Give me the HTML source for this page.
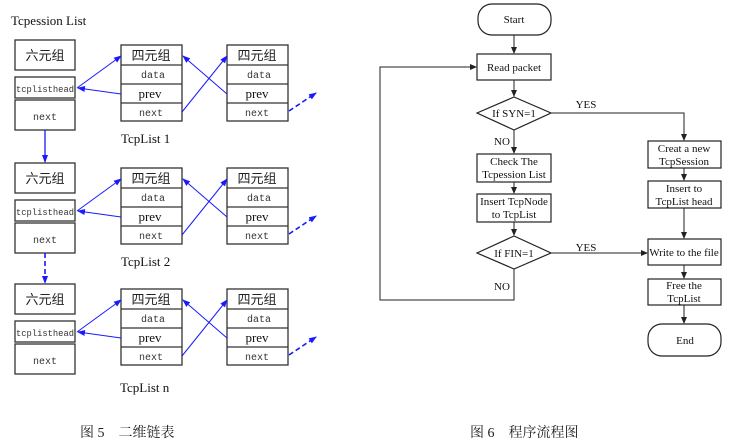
<!DOCTYPE html>
<html><head><meta charset="utf-8"><style>
html,body{margin:0;padding:0;background:#fff;}
svg{display:block}
.s{font-family:"Liberation Serif","Noto Serif CJK SC",serif;}
.m{font-family:"Liberation Mono","DejaVu Sans Mono",monospace;}
.c{font-family:"Noto Sans CJK SC",sans-serif;}
</style></head><body>
<svg width="740" height="447" viewBox="0 0 740 447" xmlns="http://www.w3.org/2000/svg">
<defs>
<marker id="b" markerWidth="8" markerHeight="6" refX="7" refY="3" orient="auto" markerUnits="userSpaceOnUse"><path d="M0,0L8,3L0,6z" fill="#1a1aff"/></marker>
<marker id="k" markerWidth="7" markerHeight="6" refX="6" refY="3" orient="auto" markerUnits="userSpaceOnUse"><path d="M0,0L7,3L0,6z" fill="#222"/></marker>
<g id="grp">
  <g fill="none" stroke="#333" stroke-width="1.3">
    <rect x="15" y="40" width="60" height="30"/>
    <rect x="15" y="77" width="60" height="21"/>
    <rect x="15" y="100" width="60" height="30"/>
    <rect x="121" y="45" width="61" height="76"/>
    <line x1="121" y1="65" x2="182" y2="65"/><line x1="121" y1="84" x2="182" y2="84"/><line x1="121" y1="103" x2="182" y2="103"/>
    <rect x="227" y="45" width="61" height="76"/>
    <line x1="227" y1="65" x2="288" y2="65"/><line x1="227" y1="84" x2="288" y2="84"/><line x1="227" y1="103" x2="288" y2="103"/>
  </g>
  <g class="c" font-size="13" fill="#222" text-anchor="middle">
    <text x="45" y="60">六元组</text><text x="151" y="60">四元组</text><text x="257" y="60">四元组</text>
  </g>
  <g class="m" font-size="10" fill="#333" text-anchor="middle">
    <text x="45" y="120">next</text>
    <text x="153" y="78">data</text><text x="151" y="116">next</text>
    <text x="259" y="78">data</text><text x="257" y="116">next</text>
  </g>
  <text class="m" x="16" y="92" font-size="9" fill="#333" textLength="58" lengthAdjust="spacingAndGlyphs">tcplisthead</text>
  <g class="s" font-size="13" fill="#111" text-anchor="middle">
    <text x="150" y="98">prev</text><text x="257" y="98">prev</text>
  </g>
  <g stroke="#1a1aff" stroke-width="1" fill="none">
    <line x1="121" y1="94" x2="78" y2="88" marker-end="url(#b)"/>
    <line x1="77" y1="88" x2="121" y2="56" marker-end="url(#b)"/>
    <line x1="182" y1="112" x2="227" y2="56" marker-end="url(#b)"/>
    <line x1="227" y1="94" x2="183" y2="56" marker-end="url(#b)"/>
    <line x1="289" y1="111" x2="316" y2="93" stroke-width="1.6" stroke-dasharray="5,3" marker-end="url(#b)"/>
  </g>
</g>
</defs>
<text class="s" x="11" y="25" font-size="13" fill="#111">Tcpession List</text>
<use href="#grp"/>
<use href="#grp" transform="translate(0,123)"/>
<use href="#grp" transform="translate(0,244)"/>
<g class="s" font-size="13" fill="#111">
<text x="121" y="143">TcpList 1</text><text x="121" y="266">TcpList 2</text><text x="120" y="392">TcpList n</text>
</g>
<line x1="45" y1="130" x2="45" y2="162" stroke="#1a1aff" stroke-width="1.3" marker-end="url(#b)"/>
<line x1="45" y1="253" x2="45" y2="283" stroke="#1a1aff" stroke-width="1.6" stroke-dasharray="5,3" marker-end="url(#b)"/>

<g fill="none" stroke="#222" stroke-width="1.2">
  <rect x="478" y="4" width="73" height="31" rx="14"/>
  <rect x="477" y="54" width="74" height="26"/>
  <polygon points="477,113 514,97 551,113 514,130"/>
  <rect x="477" y="154" width="74" height="28"/>
  <rect x="477" y="194" width="74" height="28"/>
  <polygon points="477,253 514,236 551,253 514,269"/>
  <rect x="648" y="141" width="73" height="27"/>
  <rect x="648" y="181" width="73" height="27"/>
  <rect x="648" y="239" width="73" height="26"/>
  <rect x="648" y="279" width="73" height="26"/>
  <rect x="648" y="324" width="73" height="32" rx="14"/>
</g>
<g fill="none" stroke="#222" stroke-width="1">
  <line x1="514" y1="35" x2="514" y2="53" marker-end="url(#k)"/>
  <line x1="514" y1="80" x2="514" y2="96" marker-end="url(#k)"/>
  <line x1="514" y1="130" x2="514" y2="153" marker-end="url(#k)"/>
  <line x1="514" y1="182" x2="514" y2="193" marker-end="url(#k)"/>
  <line x1="514" y1="222" x2="514" y2="235" marker-end="url(#k)"/>
  <polyline points="514,269 514,300 380,300 380,67 476,67" marker-end="url(#k)"/>
  <polyline points="551,113 684,113 684,140" marker-end="url(#k)"/>
  <line x1="684" y1="168" x2="684" y2="180" marker-end="url(#k)"/>
  <line x1="684" y1="208" x2="684" y2="238" marker-end="url(#k)"/>
  <line x1="551" y1="253" x2="647" y2="253" marker-end="url(#k)"/>
  <line x1="684" y1="265" x2="684" y2="278" marker-end="url(#k)"/>
  <line x1="684" y1="305" x2="684" y2="323" marker-end="url(#k)"/>
</g>
<g class="s" font-size="11" fill="#111" text-anchor="middle">
  <text x="514" y="23">Start</text>
  <text x="514" y="71">Read  packet</text>
  <text x="514" y="117">If SYN=1</text>
  <text x="514" y="165">Check The</text><text x="514" y="178">Tcpession List</text>
  <text x="514" y="205">Insert TcpNode</text><text x="514" y="218">to TcpList</text>
  <text x="514" y="257">If  FIN=1</text>
  <text x="684" y="152">Creat a new</text><text x="684" y="165">TcpSession</text>
  <text x="684" y="192">Insert to</text><text x="684" y="205">TcpList head</text>
  <text x="684" y="256">Write to the file</text>
  <text x="684" y="289">Free the</text><text x="684" y="302">TcpList</text>
  <text x="685" y="344">End</text>
  <text x="502" y="145">NO</text><text x="586" y="108">YES</text>
  <text x="586" y="251">YES</text><text x="502" y="290">NO</text>
</g>
<g class="s" font-size="14" fill="#222">
  <text x="80" y="437">图 5　二维链表</text>
  <text x="470" y="437">图 6　程序流程图</text>
</g>
</svg>
</body></html>
